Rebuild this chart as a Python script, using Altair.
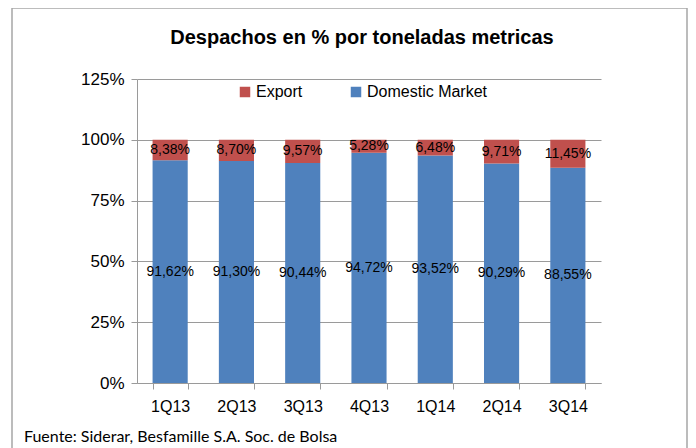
import altair as alt
import pandas as pd

quarters = ["1Q13", "2Q13", "3Q13", "4Q13", "1Q14", "2Q14", "3Q14"]
domestic = [91.62, 91.30, 90.44, 94.72, 93.52, 90.29, 88.55]
export = [8.38, 8.70, 9.57, 5.28, 6.48, 9.71, 11.45]
series = ["Export", "Domestic Market"]
colors = ["#C0504D", "#4F81BD"]
y_ticks = [0, 25, 50, 75, 100, 125]
title_text = ["Despachos en % por toneladas metricas"]
footer_text = ["Fuente: Siderar, Besfamille S.A. Soc. de Bolsa"]

rows = []
for q, d, e in zip(quarters, domestic, export):
    rows.append({"q": q, "serie": "Domestic Market", "value": d, "ord": 0})
    rows.append({"q": q, "serie": "Export", "value": e, "ord": 1})
df = pd.DataFrame(rows)

FONT = "Liberation Sans, Arial"
GRAY = "#9a9a9a"

base = alt.Chart(df).transform_calculate(
    label="replace(format(datum.value, '.2f'), '.', ',') + '%'"
)

x_enc = alt.X(
    "q:N", sort=quarters, title=None,
    scale=alt.Scale(paddingInner=0.47, paddingOuter=0.235),
    axis=alt.Axis(labelAngle=0, labelFont=FONT, labelFontSize=16, labelColor="#000",
                  labelPadding=9, tickBand="extent", tickSize=6, tickColor=GRAY,
                  domainColor=GRAY, grid=False),
)
y_enc = alt.Y(
    "value:Q", stack="zero", title=None,
    scale=alt.Scale(domain=[0, 125], nice=False),
    axis=alt.Axis(values=y_ticks, labelExpr="datum.value + '%'", labelFont=FONT,
                  labelFontSize=17, labelColor="#000", labelPadding=7,
                  tickSize=6, tickColor=GRAY, domainColor=GRAY,
                  gridColor=GRAY, gridWidth=1),
)

bars = base.mark_bar().encode(
    x=x_enc,
    y=y_enc,
    color=alt.Color(
        "serie:N",
        scale=alt.Scale(domain=series, range=colors),
        legend=alt.Legend(title=None, orient="none", legendX=100, legendY=5,
                          direction="horizontal", symbolType="square", symbolSize=110,
                          symbolStrokeWidth=0, labelFont=FONT, labelFontSize=16,
                          labelColor="#000", labelOffset=3, columnPadding=45),
    ),
    order=alt.Order("ord:Q"),
)

labels = base.mark_text(font=FONT, fontSize=14, color="#000").encode(
    x=alt.X("q:N", sort=quarters),
    y=alt.Y("value:Q", stack="zero", bandPosition=0.5),
    text="label:N",
    order=alt.Order("ord:Q"),
)

border = alt.Chart(pd.DataFrame({"a": [0]})).mark_rect(
    fill=None, stroke="#a6a6a6", strokeWidth=1.5
).encode(x=alt.value(-125), x2=alt.value(550), y=alt.value(-71), y2=alt.value(420))

title = alt.Chart(pd.DataFrame({"t": title_text})).mark_text(
    align="center", baseline="middle", font=FONT, fontSize=20, fontWeight="bold", color="#000"
).encode(x=alt.value(225), y=alt.value(-41), text="t:N")

footer = alt.Chart(pd.DataFrame({"t": footer_text})).mark_text(
    align="left", baseline="middle", font="Lato, Liberation Sans", fontSize=16, color="#000"
).encode(x=alt.value(-113), y=alt.value(358), text="t:N")

chart = alt.layer(border, bars, labels, title, footer).properties(
    width=464, height=304,
    autosize=alt.AutoSizeParams(type="none"),
    padding={"left": 129, "top": 71, "right": 87, "bottom": 65},
).configure_view(stroke=None)

chart.save("out.html", embed_options={"renderer": "svg", "actions": False})
